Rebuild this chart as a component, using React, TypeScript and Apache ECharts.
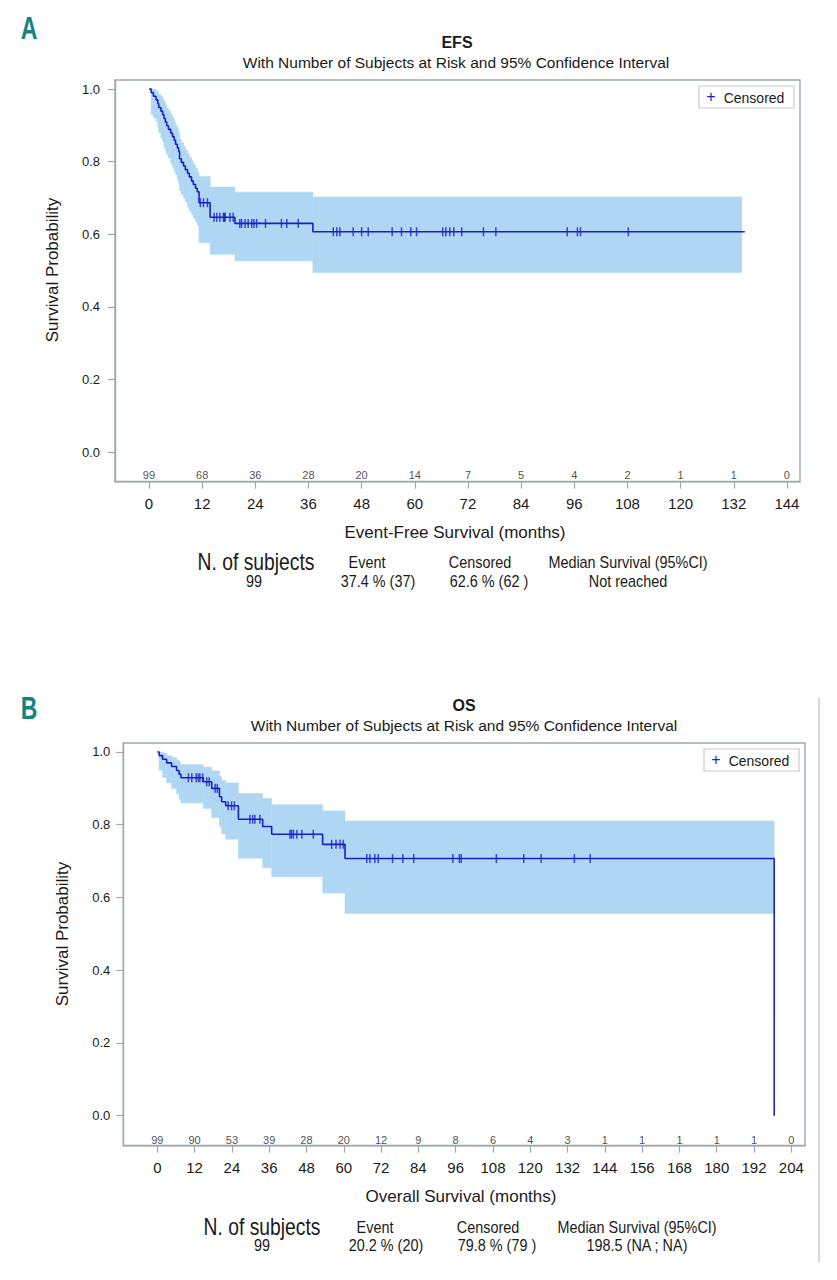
import React, { useEffect, useRef } from "react";
import * as echarts from "echarts";

// ---------- EFS (panel A) ----------
const efsEventTimes = [0.5, 1.0, 1.6, 2.0, 2.2, 2.7, 3.1, 3.4, 3.7, 4.0, 4.4, 4.9, 5.3, 5.7, 6.0, 6.4, 6.7, 6.9, 7.3, 7.8, 8.2, 8.7, 9.1, 9.6, 10.0, 10.5, 10.9, 11.3, 13.8, 19.4, 37.0];
const efsSurvival = [0.99, 0.98, 0.97, 0.96, 0.949, 0.939, 0.929, 0.919, 0.909, 0.899, 0.889, 0.879, 0.869, 0.859, 0.848, 0.838, 0.828, 0.808, 0.798, 0.788, 0.778, 0.768, 0.758, 0.747, 0.737, 0.727, 0.717, 0.687, 0.647, 0.630, 0.607];
const efsLower = [0.93, 0.92, 0.91, 0.895, 0.88, 0.865, 0.855, 0.84, 0.83, 0.82, 0.81, 0.795, 0.785, 0.775, 0.765, 0.75, 0.74, 0.72, 0.71, 0.70, 0.69, 0.675, 0.665, 0.655, 0.645, 0.635, 0.625, 0.577, 0.545, 0.527, 0.495];
const efsUpper = [1.0, 0.998, 0.995, 0.99, 0.985, 0.98, 0.972, 0.965, 0.957, 0.948, 0.94, 0.93, 0.92, 0.91, 0.90, 0.89, 0.88, 0.862, 0.852, 0.842, 0.832, 0.822, 0.812, 0.802, 0.792, 0.782, 0.772, 0.759, 0.73, 0.716, 0.703];
const efsCensored = [11.6, 12.3, 13.2, 14.7, 15.3, 16.0, 16.8, 17.0, 17.2, 18.3, 19.0, 20.5, 20.9, 21.7, 22.4, 23.2, 23.7, 24.3, 26.3, 29.9, 31.1, 33.7, 41.6, 42.4, 43.1, 46.1, 48.0, 49.5, 54.9, 57.0, 59.1, 60.4, 66.3, 67.0, 67.9, 68.8, 70.6, 75.5, 78.3, 94.4, 96.7, 97.4, 108.2];
const efsLineEnd = 134.5;
const efsBandEnd = 133.8;
const efsTicks = [0, 12, 24, 36, 48, 60, 72, 84, 96, 108, 120, 132, 144];
const efsAtRisk = [99, 68, 36, 28, 20, 14, 7, 5, 4, 2, 1, 1, 0];

// ---------- OS (panel B) ----------
const osEventTimes = [0.6, 1.7, 3.0, 4.6, 6.2, 7.0, 7.6, 14.8, 17.5, 20.0, 20.7, 22.0, 26.1, 33.9, 36.8, 53.2, 60.4, 198.5];
const osSurvival = [0.99, 0.98, 0.97, 0.96, 0.949, 0.939, 0.929, 0.918, 0.900, 0.877, 0.863, 0.852, 0.815, 0.795, 0.774, 0.746, 0.707, 0.0];
const osLower = [0.95, 0.93, 0.915, 0.90, 0.885, 0.87, 0.86, 0.845, 0.82, 0.795, 0.775, 0.76, 0.708, 0.682, 0.657, 0.612, 0.556, 0];
const osUpper = [1.0, 0.997, 0.99, 0.985, 0.978, 0.972, 0.965, 0.958, 0.948, 0.932, 0.922, 0.915, 0.886, 0.872, 0.855, 0.838, 0.81, 0];
const osCensored = [10.0, 11.1, 12.5, 13.2, 13.7, 14.6, 15.9, 16.7, 18.6, 19.3, 22.8, 23.9, 24.8, 29.8, 30.7, 31.4, 33.0, 42.7, 43.2, 43.8, 44.9, 46.5, 50.2, 56.1, 57.5, 58.8, 59.8, 67.4, 68.4, 70.0, 71.1, 75.7, 79.0, 82.5, 95.1, 97.2, 97.8, 109.1, 117.9, 123.5, 134.2, 139.3];
const osLineEnd = 198.5;
const osBandEnd = 198.5;
const osTicks = [0, 12, 24, 36, 48, 60, 72, 84, 96, 108, 120, 132, 144, 156, 168, 180, 192, 204];
const osAtRisk = [99, 90, 53, 39, 28, 20, 12, 9, 8, 6, 4, 3, 1, 1, 1, 1, 1, 0];

const yTicks = [0, 0.2, 0.4, 0.6, 0.8, 1.0];

const LINE = "#1b1fc6";
const BAND = "#afd7f4";
const FRAME = "#9fa9a9";
const TEXT = "#1a1a1a";
const REG = "'Liberation Sans', Arial, sans-serif";

function stepPoints(times: number[], surv: number[], end: number) {
  const pts: number[][] = [[0, 1]];
  let prev = 1;
  times.forEach((t, i) => {
    pts.push([t, prev]);
    pts.push([t, surv[i]]);
    prev = surv[i];
  });
  if (end > times[times.length - 1]) pts.push([end, prev]);
  return pts;
}

function bandRects(times: number[], lo: number[], hi: number[], end: number) {
  const out: number[][] = [];
  for (let i = 0; i < times.length; i++) {
    const t0 = times[i];
    const t1 = i + 1 < times.length ? times[i + 1] : end;
    const e = Math.min(t1, end);
    if (e > t0 && hi[i] > lo[i]) out.push([t0, e, lo[i], hi[i]]);
  }
  return out;
}

function survAt(times: number[], surv: number[], t: number) {
  let s = 1;
  for (let i = 0; i < times.length; i++) if (times[i] <= t) s = surv[i];
  return s;
}

function makeAxes(gi: number, xmin: number, xmax: number, ymin: number, ymax: number, ticks: number[], xLabelMargin: number, yLabelMargin: number) {
  const x = {
    type: "value", gridIndex: gi, min: xmin, max: xmax,
    axisLine: { show: true, onZero: false, lineStyle: { color: FRAME, width: 1.4 } },
    axisTick: { show: true, customValues: ticks, length: 7, lineStyle: { color: FRAME, width: 1.2 } },
    axisLabel: { customValues: ticks, fontSize: 15, fontFamily: REG, color: TEXT, margin: xLabelMargin, formatter: (v: number) => String(v) },
    splitLine: { show: false },
  };
  const y = {
    type: "value", gridIndex: gi, min: ymin, max: ymax,
    axisLine: { show: true, onZero: false, lineStyle: { color: FRAME, width: 1.4 } },
    axisTick: { show: true, customValues: yTicks, length: 7, lineStyle: { color: FRAME, width: 1.2 } },
    axisLabel: { customValues: yTicks, fontSize: 13, fontFamily: REG, color: TEXT, margin: yLabelMargin, formatter: (v: number) => v.toFixed(1) },
    splitLine: { show: false },
  };
  return { x, y };
}

function bandSeries(gi: number, rects: number[][]) {
  return {
    type: "custom", xAxisIndex: gi, yAxisIndex: gi, data: rects, silent: true, z: 1,
    encode: { x: [0, 1], y: [2, 3] },
    renderItem: (_p: any, api: any) => {
      const a = api.coord([api.value(0), api.value(3)]);
      const b = api.coord([api.value(1), api.value(2)]);
      return {
        type: "rect",
        shape: { x: a[0], y: a[1], width: b[0] - a[0], height: b[1] - a[1] },
        style: { fill: BAND, stroke: BAND, lineWidth: 0.6 },
      };
    },
  };
}

function lineSeries(gi: number, pts: number[][]) {
  return {
    type: "line", xAxisIndex: gi, yAxisIndex: gi, data: pts, symbol: "none", z: 3,
    lineStyle: { color: LINE, width: 1.6 }, silent: true,
  };
}

function censorSeries(gi: number, times: number[], evT: number[], evS: number[]) {
  return {
    type: "scatter", xAxisIndex: gi, yAxisIndex: gi, z: 4, silent: true,
    data: times.map((t) => [t, survAt(evT, evS, t)]),
    symbol: "rect", symbolSize: [1.5, 9],
    itemStyle: { color: LINE },
  };
}

function atRiskSeries(gi: number, ticks: number[], counts: number[], yv: number) {
  return {
    type: "scatter", xAxisIndex: gi, yAxisIndex: gi, z: 5, silent: true,
    data: ticks.map((t, i) => [t, yv, counts[i]]),
    symbolSize: 0,
    label: {
      show: true, position: "inside", fontSize: 11, fontFamily: REG, color: TEXT,
      formatter: (p: any) => String(p.value[2]),
    },
  };
}

function txt(x: number, y: number, text: string, fontSize: number, opts: any = {}) {
  return {
    type: "text", x, y, rotation: opts.rotation || 0, scaleX: opts.scaleX || 1, z: 10,
    style: {
      text, fontSize, fontFamily: REG, fontWeight: opts.bold ? "bold" : "normal",
      fill: opts.fill || TEXT,
      align: "center", verticalAlign: "middle",
      textAlign: "center", textVerticalAlign: "middle",
    },
  };
}

function legendBox(x: number, y: number) {
  return [
    { type: "rect", z: 9, shape: { x, y, width: 95, height: 22 }, style: { fill: "#fff", stroke: "#c9cccc", lineWidth: 1.2 } },
    txt(x + 12, y + 10.5, "+", 16, { fill: LINE }),
    txt(x + 55, y + 11.5, "Censored", 14),
  ];
}

function statsRows(cols: number[], y1: number, y2: number, values: string[]) {
  const heads = ["N. of subjects", "Event", "Censored", "Median Survival (95%CI)"];
  const out: any[] = [];
  heads.forEach((h, i) =>
    out.push(i === 0 ? txt(cols[i], y1, h, 23, { scaleX: 0.84 }) : txt(cols[i], y1, h, 16, { scaleX: 0.9 }))
  );
  values.forEach((v, i) => out.push(txt(cols[i + 4], y2, v, 16, { scaleX: 0.9 })));
  return out;
}

export default function App() {
  const ref = useRef<HTMLDivElement>(null);
  useEffect(() => {
    if (!ref.current) return;
    const chart = echarts.init(ref.current, null, { renderer: "svg", width: 837, height: 1280 });
    const a = makeAxes(0, -7.67, 146.95, -0.081, 1.0248, efsTicks, 14, 15);
    const b = makeAxes(1, -10.94, 208.4, -0.0825, 1.0247, osTicks, 14, 13);
    const option: any = {
      animation: false,
      backgroundColor: "#ffffff",
      grid: [
        { left: 115, top: 80, width: 685, height: 401.7, show: true, borderColor: FRAME, borderWidth: 1.4, backgroundColor: "transparent" },
        { left: 123.3, top: 743, width: 681.7, height: 402.7, show: true, borderColor: FRAME, borderWidth: 1.4, backgroundColor: "transparent" },
      ],
      xAxis: [a.x, b.x],
      yAxis: [a.y, b.y],
      series: [
        bandSeries(0, bandRects(efsEventTimes, efsLower, efsUpper, efsBandEnd)),
        lineSeries(0, stepPoints(efsEventTimes, efsSurvival, efsLineEnd)),
        censorSeries(0, efsCensored, efsEventTimes, efsSurvival),
        atRiskSeries(0, efsTicks, efsAtRisk, -0.0625),
        bandSeries(1, bandRects(osEventTimes, osLower, osUpper, osBandEnd)),
        lineSeries(1, stepPoints(osEventTimes, osSurvival, osLineEnd)),
        censorSeries(1, osCensored, osEventTimes, osSurvival),
        atRiskSeries(1, osTicks, osAtRisk, -0.067),
      ],
      graphic: [
        txt(29, 28, "A", 32, { bold: true, fill: "#15837f", scaleX: 0.72 }),
        txt(457, 42, "EFS", 16, { bold: true }),
        txt(456, 62, "With Number of Subjects at Risk and 95% Confidence Interval", 15.5),
        txt(52, 270, "Survival Probability", 17, { rotation: Math.PI / 2 }),
        txt(455, 532, "Event-Free Survival (months)", 17),
        ...legendBox(699, 86),
        ...statsRows([256, 367, 480, 628, 254, 378, 489, 628], 562, 581, ["99", "37.4 % (37)", "62.6 % (62 )", "Not reached"]),

        txt(29, 708, "B", 32, { bold: true, fill: "#15837f", scaleX: 0.72 }),
        txt(464, 705, "OS", 16, { bold: true }),
        txt(464, 725, "With Number of Subjects at Risk and 95% Confidence Interval", 15.5),
        txt(62, 934, "Survival Probability", 17, { rotation: Math.PI / 2 }),
        txt(461, 1196, "Overall Survival (months)", 17),
        ...legendBox(704, 749),
        ...statsRows([262, 375, 488, 637, 262, 386, 497, 637], 1227, 1245, ["99", "20.2 % (20)", "79.8 % (79 )", "198.5 (NA ; NA)"]),

        { type: "line", z: 10, shape: { x1: 819, y1: 698, x2: 819, y2: 1262 }, style: { stroke: "#c9cdcd", lineWidth: 1.5 } },
      ],
    };
    chart.setOption(option);
    return () => chart.dispose();
  }, []);
  return <div ref={ref} style={{ position: "absolute", left: 0, top: 0, width: 837, height: 1280, background: "#fff" }} />;
}
